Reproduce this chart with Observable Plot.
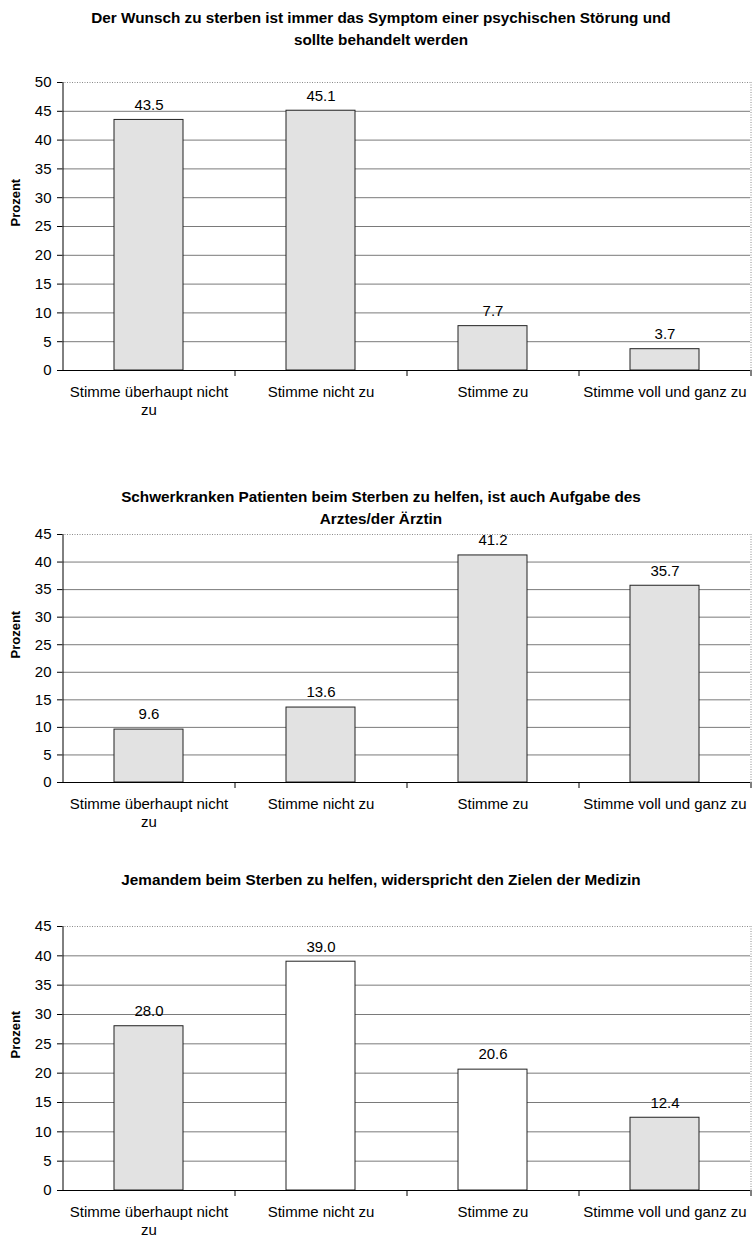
<!DOCTYPE html>
<html><head><meta charset="utf-8">
<script src="https://cdn.jsdelivr.net/npm/d3@7"></script>
<script src="https://cdn.jsdelivr.net/npm/@observablehq/plot@0.6"></script>
<style>
body{margin:0;background:#fff;font-family:"Liberation Sans",Arial,sans-serif;}
#root{position:relative;width:752px;height:1240px;overflow:hidden;background:#fff;}
.title{position:absolute;left:0;width:742px;padding-left:10px;text-align:center;font-weight:bold;font-size:15.3px;line-height:22px;color:#000;white-space:pre-line;}
.chart{position:absolute;left:0;}
</style></head><body><div id="root"></div>
<script>
// ---- data ----
const categories = ["Stimme überhaupt nicht zu", "Stimme nicht zu", "Stimme zu", "Stimme voll und ganz zu"];
const tickLabels = ["Stimme überhaupt nicht\nzu", "Stimme nicht zu", "Stimme zu", "Stimme voll und ganz zu"];
const titles = [
  "Der Wunsch zu sterben ist immer das Symptom einer psychischen Störung und\nsollte behandelt werden",
  "Schwerkranken Patienten beim Sterben zu helfen, ist auch Aufgabe des\nArztes/der Ärztin",
  "Jemandem beim Sterben zu helfen, widerspricht den Zielen der Medizin"
];
const valuesWunsch = [43.5, 45.1, 7.7, 3.7];
const valuesAufgabe = [9.6, 13.6, 41.2, 35.7];
const valuesZiele = [28.0, 39.0, 20.6, 12.4];
const yMaxima = [50, 45, 45];
const yLabel = "Prozent";

// ---- layout / style ----
const W = 752, mL = 62, mR = 2, mT = 10, mB = 50;
const gray = "#e2e2e2";
const panels = [
  {values: valuesWunsch, titleTop: 7, svgTop: 72, plotH: 288, fills: [gray, gray, gray, gray]},
  {values: valuesAufgabe, titleTop: 486, svgTop: 524, plotH: 248, fills: [gray, gray, gray, gray]},
  {values: valuesZiele, titleTop: 869, svgTop: 916, plotH: 264, fills: [gray, "#fff", "#fff", gray]}
];

function makePanel(values, ymax, plotH, fills) {
  const data = categories.map((c, i) => ({c, v: values[i], label: tickLabels[i], fill: fills[i]}));
  const step = (W - mL - mR) / categories.length;
  const ticks = d3.range(0, ymax + 0.001, 5);
  return Plot.plot({
    width: W, height: mT + plotH + mB,
    marginLeft: mL, marginRight: mR, marginTop: mT, marginBottom: mB,
    style: {fontFamily: "'Liberation Sans', Arial, sans-serif", fontSize: "15px", background: "#fff", color: "#000"},
    x: {type: "band", domain: categories, paddingInner: 0.6, paddingOuter: 0.3, axis: null},
    y: {domain: [0, ymax], ticks: ticks, tickSize: 5, tickPadding: 6, label: null},
    color: {type: "identity"},
    marks: [
      Plot.ruleY(ticks.filter(t => t > 0 && t < ymax), {stroke: "#7a7a7a", strokeWidth: 1}),
      Plot.ruleY([ymax], {stroke: "#8a8a8a", strokeDasharray: "1,1.5"}),
      Plot.ruleX([categories[categories.length - 1]], {dx: step / 2, stroke: "#8a8a8a", strokeDasharray: "1,1.5"}),
      Plot.barY(data, {x: "c", y: "v", fill: "fill", stroke: "#222", strokeWidth: 1}),
      Plot.ruleX([categories[0]], {dx: -step / 2, stroke: "#000"}),
      Plot.ruleY([0], {stroke: "#000"}),
      Plot.ruleX(categories, {x: d => d, dx: step / 2, y1: 0, y2: 0, insetBottom: -6, stroke: "#000"}),
      Plot.text(data, {x: "c", y: "v", text: d => d.v.toFixed(1), dy: -15, fontSize: 15, fill: "#000"}),
      Plot.text(data, {x: "c", text: "label", frameAnchor: "bottom", lineAnchor: "top", dy: 14, lineHeight: 1.2, fontSize: 15, fill: "#000"}),
      Plot.text([yLabel], {frameAnchor: "left", dx: -47, rotate: -90, fontWeight: "bold", fontSize: 13, fill: "#000"})
    ]
  });
}

const root = document.getElementById("root");
panels.forEach((p, i) => {
  const t = document.createElement("div");
  t.className = "title";
  t.style.top = p.titleTop + "px";
  t.textContent = titles[i];
  root.appendChild(t);
  const c = document.createElement("div");
  c.className = "chart";
  c.style.top = p.svgTop + "px";
  c.appendChild(makePanel(p.values, yMaxima[i], p.plotH, p.fills));
  root.appendChild(c);
});
</script>
</body></html>
